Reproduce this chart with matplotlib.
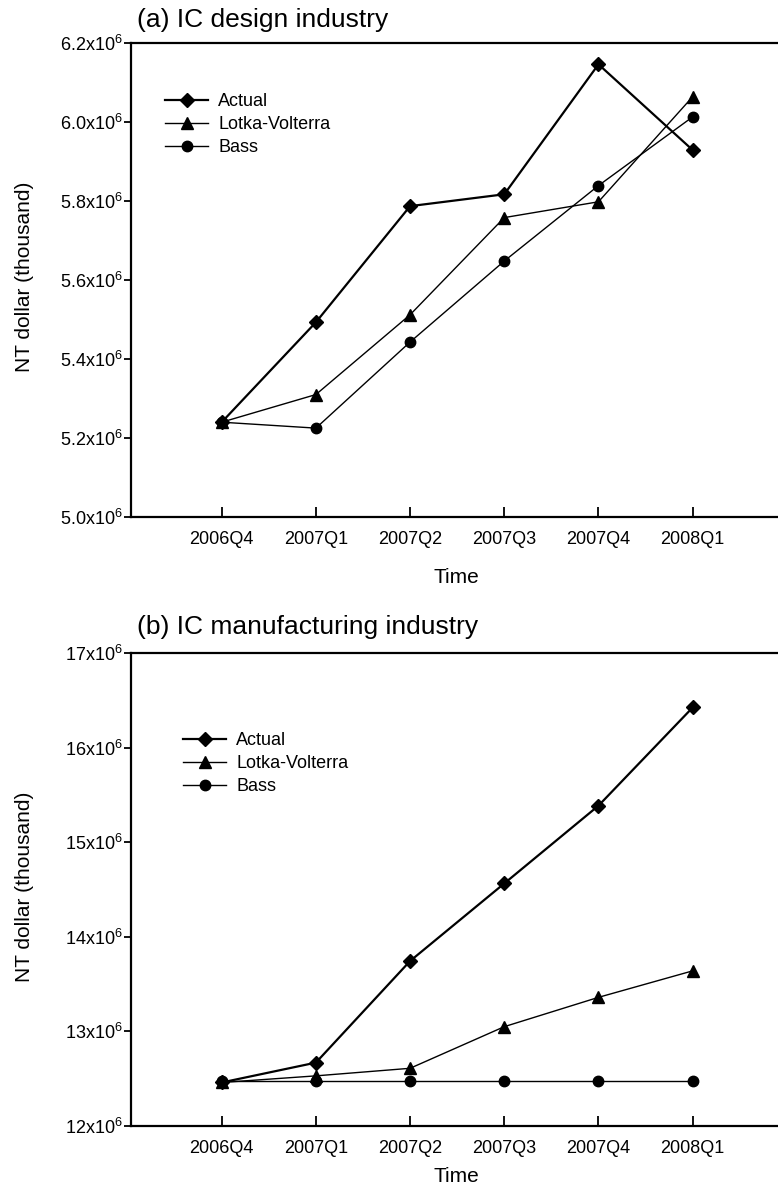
import matplotlib
matplotlib.use('Agg')
import matplotlib.pyplot as plt
import numpy as np

plt.rcParams['font.family'] = ['Liberation Sans', 'DejaVu Sans']
plt.rcParams['mathtext.fontset'] = 'custom'
plt.rcParams['mathtext.rm'] = 'Liberation Sans'

# Data
quarters = ['2006Q4', '2007Q1', '2007Q2', '2007Q3', '2007Q4', '2008Q1']

design_actual = [5.240e6, 5.493e6, 5.787e6, 5.817e6, 6.146e6, 5.929e6]
design_lv = [5.240e6, 5.310e6, 5.512e6, 5.758e6, 5.798e6, 6.064e6]
design_bass = [5.240e6, 5.225e6, 5.443e6, 5.648e6, 5.839e6, 6.013e6]

manuf_actual = [12.46e6, 12.67e6, 13.744e6, 14.564e6, 15.386e6, 16.424e6]
manuf_lv = [12.46e6, 12.53e6, 12.61e6, 13.05e6, 13.36e6, 13.64e6]
manuf_bass = [12.476e6, 12.476e6, 12.476e6, 12.476e6, 12.476e6, 12.476e6]

design_yticks = [5.0e6, 5.2e6, 5.4e6, 5.6e6, 5.8e6, 6.0e6, 6.2e6]
manuf_yticks = [12e6, 13e6, 14e6, 15e6, 16e6, 17e6]

W, H = 778, 1187
fig = plt.figure(figsize=(W / 100, H / 100), dpi=100)


def fx(px):
    return px / W


def fy(py):
    return 1 - py / H


def draw_panel(rect, title, actual, lv, bass, yticks, ylabels, legend_xy, label_y):
    ax = fig.add_axes(rect)
    x = np.arange(len(quarters))
    ax.plot(x, actual, color='black', lw=1.6, marker='D', ms=7.5, label='Actual', zorder=4)
    ax.plot(x, lv, color='black', lw=1.0, marker='^', ms=8, label='Lotka-Volterra', zorder=3)
    ax.plot(x, bass, color='black', lw=1.0, marker='o', ms=7.5, label='Bass', zorder=3)

    ax.set_xlim(-0.963, 5.906)
    ax.set_ylim(yticks[0], yticks[-1])
    ax.set_xticks(x)
    ax.set_xticklabels(quarters, fontsize=13)
    ax.set_yticks(yticks)
    ax.set_yticklabels(ylabels, fontsize=13)
    ax.tick_params(axis='x', direction='in', length=7, width=1.3, pad=10)
    ax.tick_params(axis='y', direction='out', length=5, width=1.3, pad=1)

    ax.spines['right'].set_visible(False)
    for s in ['left', 'bottom', 'top']:
        ax.spines[s].set_linewidth(1.6)

    ax.set_xlabel('Time', fontsize=15)
    ax.set_ylabel('NT dollar (thousand)', fontsize=15)
    ax.xaxis.set_label_coords(fx(456), fy(label_y), transform=fig.transFigure)
    ax.xaxis.label.set_va('center')
    ax.yaxis.set_label_coords(fx(25), rect[1] + rect[3] / 2 + 3 / H,
                              transform=fig.transFigure)
    ax.yaxis.label.set_va('center')

    fig.text(fx(137), fy(title[1]), title[0], fontsize=19, ha='left', va='center')

    ax.legend(loc='upper left', bbox_to_anchor=(fx(legend_xy[0]), fy(legend_xy[1])),
              bbox_transform=fig.transFigure, frameon=False, fontsize=13,
              handlelength=2.4, handletextpad=0.55, labelspacing=0.33,
              borderpad=0, borderaxespad=0)
    return ax


fmt_a = [r'%.1fx10$^{\mathrm{6}}$' % (v / 1e6) for v in design_yticks]
fmt_b = [r'%dx10$^{\mathrm{6}}$' % (v / 1e6) for v in manuf_yticks]

ax1 = draw_panel([fx(131), fy(517), 1 - fx(131), fy(43) - fy(517)],
                 ('(a) IC design industry', 20),
                 design_actual, design_lv, design_bass, design_yticks, fmt_a,
                 (165, 93), 577)
ax2 = draw_panel([fx(131), fy(1126), 1 - fx(131), fy(653) - fy(1126)],
                 ('(b) IC manufacturing industry', 627),
                 manuf_actual, manuf_lv, manuf_bass, manuf_yticks, fmt_b,
                 (183, 732), 1177)

fig.savefig('out.png', dpi=100)
